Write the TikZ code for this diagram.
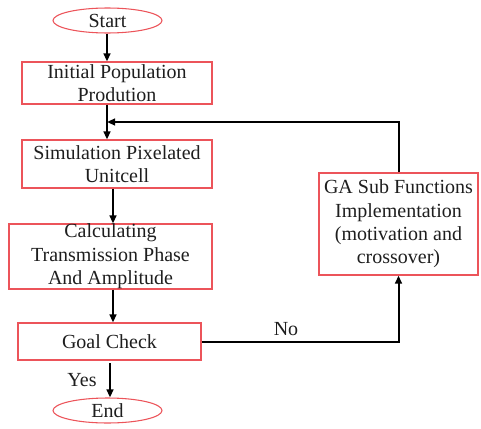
\documentclass[tikz,border=0pt]{standalone}
\usepackage{fontspec}
\setmainfont{Liberation Serif}
\newfontfamily\tnr{Liberation Serif}
\usetikzlibrary{arrows.meta,shapes.geometric}
\definecolor{boxred}{RGB}{236,84,90}
\definecolor{txt}{RGB}{30,30,30}
\begin{document}
\begin{tikzpicture}[x=0.75pt,y=-0.75pt,
  procbox/.style={draw=boxred,line width=0.8pt,rectangle,align=center,text=txt,font=\tnr\fontsize{15}{17.5}\selectfont,inner sep=0pt},
  termbox/.style={draw=boxred,line width=0.8pt,ellipse,align=center,text=txt,font=\tnr\fontsize{15}{17.5}\selectfont,inner sep=0pt},
  conn/.style={line width=1.5pt,draw=black},
  arr/.style={conn,-{Triangle[length=6pt,width=5pt]}},
  lbl/.style={text=txt,font=\tnr\fontsize{15}{17.5}\selectfont,inner sep=0pt}]
\useasboundingbox (0,0) rectangle (481,428);
\node[termbox,minimum width=109*0.75pt,minimum height=25*0.75pt] (start) at (107.5,20.5) {Start};
\node[procbox,minimum width=190*0.75pt,minimum height=42*0.75pt] (b1) at (117,83) {Initial Population\\Prodution};
\node[procbox,minimum width=190*0.75pt,minimum height=48*0.75pt] (b2) at (117,164) {Simulation Pixelated\\Unitcell};
\node[procbox,minimum width=203*0.75pt,minimum height=65*0.75pt] (b3) at (110.5,256.5) {Calculating\\Transmission Phase\\And Amplitude};
\node[procbox,minimum width=183*0.75pt,minimum height=37*0.75pt] (b4) at (109.5,341.5) {Goal Check};
\node[termbox,minimum width=109*0.75pt,minimum height=25*0.75pt] (end) at (107.5,410.5) {End};
\node[procbox,minimum width=159*0.75pt,minimum height=102*0.75pt] (ga) at (398.5,224) {GA Sub Functions\\Implementation\\(motivation and\\crossover)};
\coordinate (j) at (107,122);
\coordinate (c1) at (398.5,122);
\coordinate (c2) at (398.5,342);
\coordinate (ys) at (110,363);
\draw[arr] (107,0 |- start.south) -- (107,0 |- b1.north);
\draw[arr] (107,0 |- b1.south) -- (107,0 |- b2.north);
\draw[arr] (ga.north) -- (c1) -- (j);
\draw[arr] (113,0 |- b2.south) -- (113,0 |- b3.north);
\draw[arr] (113,0 |- b3.south) -- (113,0 |- b4.north);
\draw[arr] (ys) -- (110,0 |- end.north);
\draw[arr] (b4.east |- c2) -- (c2) -- (ga.south);
\node[lbl] (yes) at (82,380) {Yes};
\node[lbl] (no) at (286,329) {No};
\end{tikzpicture}
\end{document}
